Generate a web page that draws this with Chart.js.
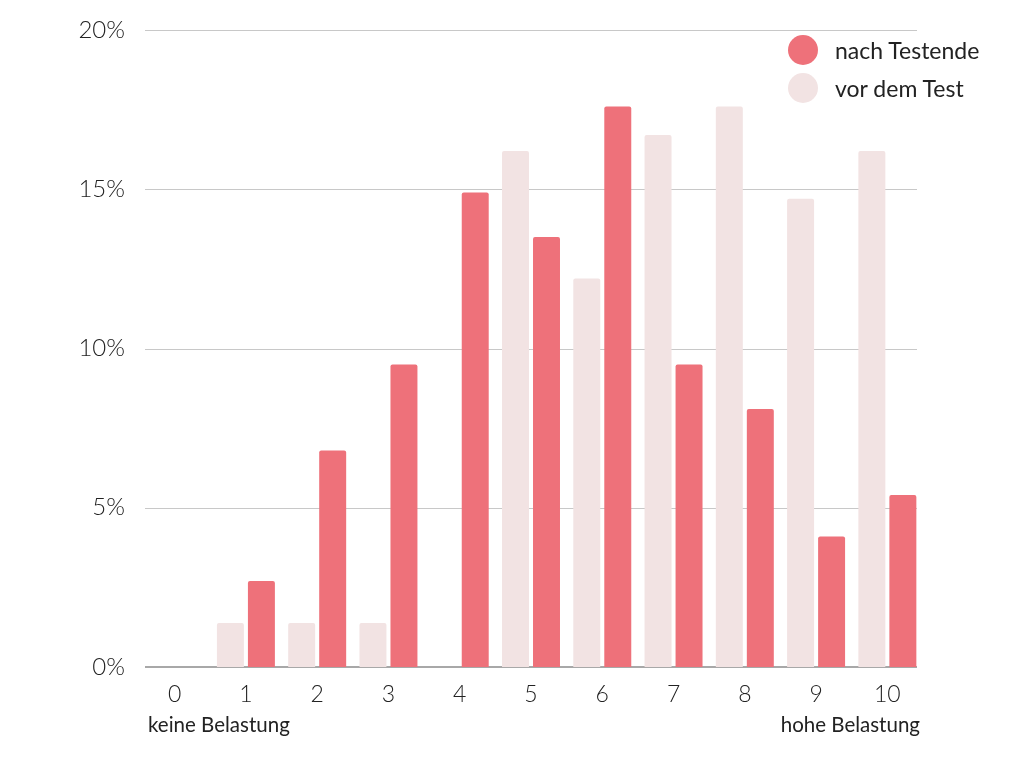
<!DOCTYPE html>
<html>
<head>
<meta charset="utf-8">
<script src="https://cdn.jsdelivr.net/npm/chart.js@4"></script>
<style>
  html, body { margin: 0; padding: 0; background: #fff; }
  #wrap { position: relative; width: 1024px; height: 768px; }
  canvas { position: absolute; left: 0; top: 0; }
  .note { position: absolute; font-family: Lato, "Open Sans", sans-serif; font-size: 20.5px; color: #222; white-space: nowrap; }
  .legend { position: absolute; left: 788px; top: 31px; font-family: Lato, "Open Sans", sans-serif; font-size: 23px; color: #222; }
  .legend div { display: flex; align-items: center; height: 38px; }
  .legend span.dot { width: 30px; height: 30px; border-radius: 50%; display: inline-block; margin-right: 17px; }
</style>
</head>
<body>
<div id="wrap">
  <canvas id="c" width="1024" height="768"></canvas>
  <div class="note" style="left:148px; top:712px;">keine Belastung</div>
  <div class="note" style="right:104px; top:712px;">hohe Belastung</div>
  <div class="legend" id="legend"></div>
</div>
<script>
const categories = ["0", "1", "2", "3", "4", "5", "6", "7", "8", "9", "10"];
const seriesNames = ["vor dem Test", "nach Testende"];
const vorDemTest = [0, 1.38, 1.38, 1.38, 0, 16.2, 12.2, 16.7, 17.6, 14.7, 16.2];
const nachTestende = [0, 2.7, 6.8, 9.5, 14.9, 13.5, 17.6, 9.5, 8.1, 4.1, 5.4];
const yTicks = [0, 5, 10, 15, 20];
const colors = ["#f2e3e3", "#ee717a"];

const legend = document.getElementById("legend");
[1, 0].forEach(i => {
  const row = document.createElement("div");
  row.innerHTML = '<span class="dot" style="background:' + colors[i] + '"></span>' + seriesNames[i];
  legend.appendChild(row);
});

const gridPlugin = {
  id: "shortGrid",
  beforeDatasetsDraw(chart) {
    const { ctx, chartArea, scales } = chart;
    const l = chartArea.left + 6, r = chartArea.right - 6;
    ctx.save();
    scales.y.ticks.forEach(t => {
      const y = Math.round(scales.y.getPixelForValue(t.value));
      if (t.value === 0) {
        ctx.strokeStyle = "#a8a8a8"; ctx.lineWidth = 2;
        ctx.beginPath(); ctx.moveTo(l, y); ctx.lineTo(r, y); ctx.stroke();
      } else {
        ctx.strokeStyle = "#c8c8c8"; ctx.lineWidth = 1;
        ctx.beginPath(); ctx.moveTo(l, y + 0.5); ctx.lineTo(r, y + 0.5); ctx.stroke();
      }
    });
    ctx.restore();
  }
};

new Chart(document.getElementById("c"), {
  type: "bar",
  data: {
    labels: categories,
    datasets: [
      { label: seriesNames[0], data: vorDemTest, backgroundColor: colors[0], borderRadius: 2, borderSkipped: "bottom" },
      { label: seriesNames[1], data: nachTestende, backgroundColor: colors[1], borderRadius: 2, borderSkipped: "bottom" }
    ]
  },
  plugins: [gridPlugin],
  options: {
    responsive: false,
    animation: false,
    devicePixelRatio: 1,
    layout: { padding: { top: 30, right: 101, bottom: 0, left: 0 } },
    categoryPercentage: 0.87,
    barPercentage: 0.87,
    plugins: { legend: { display: false }, tooltip: { enabled: false } },
    scales: {
      x: {
        grid: { display: false, drawTicks: false },
        border: { display: false },
        ticks: { color: "#222", font: { family: "Lato", size: 23, weight: 300 }, padding: 14 },
        afterFit: s => { s.height = 101; }
      },
      y: {
        min: 0, max: 20,
        afterBuildTicks: s => { s.ticks = yTicks.map(v => ({ value: v })); },
        grid: { display: false, drawTicks: false },
        border: { display: false },
        ticks: { color: "#222", font: { family: "Lato", size: 24, weight: 300 }, padding: 14, callback: v => v + "%" },
        afterFit: s => { s.width = 139; }
      }
    }
  }
});
</script>
</body>
</html>
